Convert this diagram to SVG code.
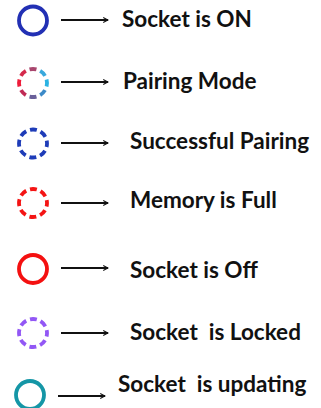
<svg xmlns="http://www.w3.org/2000/svg" width="321" height="408" viewBox="0 0 321 408">
<style>
.t{font-family:Lato,"Liberation Sans",sans-serif;font-weight:bold;font-size:22.5px;fill:#111}
.ring{fill:none;stroke-width:3.8}
.dash{stroke-dasharray:7 3.996;stroke-dashoffset:3.5}
.arr{stroke:#111;stroke-width:1.8;fill:none}
</style>
<defs>
<marker id="ah" viewBox="0 0 10 10" refX="9" refY="5" markerWidth="6" markerHeight="6" markerUnits="userSpaceOnUse" orient="auto">
<path d="M1,1 L9,5 L1,9" fill="none" stroke="#111" stroke-width="1.8"/>
</marker>
</defs>
<rect width="321" height="408" fill="#fff"/>
<g id="n1"><circle class="ring" cx="33" cy="20.5" r="14" stroke="#2230b4"/><text class="t" x="122" y="27">Socket is ON</text></g>
<g id="n2">
<g class="ring" transform="translate(33,83)">
<path d="M13.57,-3.46 A14,14 0 0 1 13.57,3.46" stroke="#2bb3e3"/>
<path d="M12.04,7.15 A14,14 0 0 1 7.15,12.04" stroke="#3c8ac8"/>
<path d="M3.46,13.57 A14,14 0 0 1 -3.46,13.57" stroke="#6a609a"/>
<path d="M-7.15,12.04 A14,14 0 0 1 -12.04,7.15" stroke="#c02a55"/>
<path d="M-13.57,3.46 A14,14 0 0 1 -13.57,-3.46" stroke="#ee1c3a"/>
<path d="M-12.04,-7.15 A14,14 0 0 1 -7.15,-12.04" stroke="#d42a4c"/>
<path d="M-3.46,-13.57 A14,14 0 0 1 3.46,-13.57" stroke="#a8466e"/>
<path d="M7.15,-12.04 A14,14 0 0 1 12.04,-7.15" stroke="#38a8dc"/>
</g>
<text class="t" x="123" y="89">Pairing Mode</text></g>
<g id="n3"><circle class="ring dash" cx="33" cy="143.5" r="14" stroke="#1e3cb8"/><text class="t" x="130" y="149">Successful Pairing</text></g>
<g id="n4"><circle class="ring dash" cx="33" cy="203" r="14" stroke="#f41414"/><text class="t" x="130" y="208">Memory is Full</text></g>
<g id="n5"><circle class="ring" cx="33" cy="269" r="14" stroke="#f41010"/><text class="t" x="130" y="278">Socket is Off</text></g>
<g id="n6"><circle class="ring dash" cx="33" cy="333" r="14" stroke="#9257f5"/><text class="t" x="130" y="340" xml:space="preserve">Socket  is Locked</text></g>
<g id="n7"><circle class="ring" cx="30" cy="395" r="14" stroke="#1596a6"/><text class="t" x="118" y="392" xml:space="preserve">Socket  is updating</text></g>
<g id="connectors">
<line class="arr" x1="61" y1="20" x2="108" y2="20" marker-end="url(#ah)"/>
<line class="arr" x1="61" y1="82" x2="108" y2="82" marker-end="url(#ah)"/>
<line class="arr" x1="61" y1="143" x2="108" y2="143" marker-end="url(#ah)"/>
<line class="arr" x1="61" y1="203" x2="108" y2="203" marker-end="url(#ah)"/>
<line class="arr" x1="61" y1="268" x2="108" y2="268" marker-end="url(#ah)"/>
<line class="arr" x1="61" y1="333" x2="108" y2="333" marker-end="url(#ah)"/>
<line class="arr" x1="58" y1="396" x2="105" y2="396" marker-end="url(#ah)"/>
</g>
</svg>
